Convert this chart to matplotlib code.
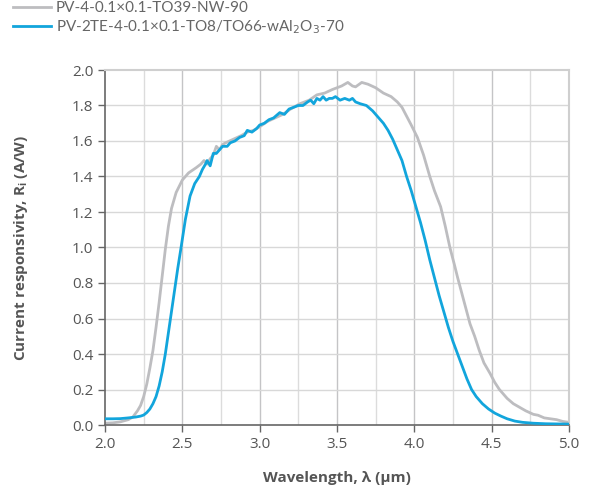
import matplotlib
matplotlib.use("Agg")
import matplotlib.pyplot as plt
from matplotlib.lines import Line2D

# ---- data ----
gray_label = "PV-4-0.1×0.1-TO39-NW-90"
blue_label = "PV-2TE-4-0.1×0.1-TO8/TO66-wAl$_2$O$_3$-70"

gray_x = [2.00, 2.05, 2.10, 2.15, 2.18, 2.21, 2.23, 2.25, 2.27, 2.29, 2.31, 2.33, 2.35, 2.37,
          2.39, 2.41, 2.43, 2.46, 2.50, 2.54, 2.59, 2.62, 2.64, 2.66, 2.68, 2.70, 2.72, 2.74,
          2.76, 2.78, 2.83, 2.88, 2.92, 2.96, 3.00, 3.05, 3.10, 3.15, 3.20, 3.26, 3.32, 3.37,
          3.42, 3.47, 3.50, 3.53, 3.57, 3.60, 3.62, 3.66, 3.70, 3.75, 3.80, 3.85, 3.89, 3.92,
          3.95, 3.98, 4.02, 4.06, 4.10, 4.13, 4.17, 4.20, 4.23, 4.26, 4.28, 4.32, 4.36, 4.39,
          4.42, 4.45, 4.49, 4.52, 4.55, 4.60, 4.64, 4.68, 4.72, 4.77, 4.80, 4.84, 4.88, 4.92,
          4.96, 5.00]
gray_y = [0.01, 0.012, 0.018, 0.03, 0.045, 0.08, 0.11, 0.16, 0.23, 0.32, 0.42, 0.55, 0.69, 0.84,
          0.99, 1.12, 1.22, 1.31, 1.38, 1.42, 1.45, 1.47, 1.49, 1.47, 1.50, 1.52, 1.57, 1.55,
          1.58, 1.59, 1.61, 1.63, 1.65, 1.66, 1.68, 1.71, 1.73, 1.75, 1.78, 1.81, 1.83, 1.86,
          1.87, 1.89, 1.90, 1.91, 1.93, 1.91, 1.905, 1.93, 1.92, 1.90, 1.87, 1.85, 1.82, 1.79,
          1.74, 1.69, 1.62, 1.52, 1.40, 1.32, 1.23, 1.12, 1.00, 0.90, 0.83, 0.70, 0.57, 0.50,
          0.42, 0.35, 0.29, 0.24, 0.20, 0.15, 0.12, 0.10, 0.08, 0.06, 0.055, 0.04, 0.035, 0.03,
          0.02, 0.015]

blue_x = [2.00, 2.05, 2.10, 2.15, 2.20, 2.23, 2.25, 2.27, 2.29, 2.31, 2.33, 2.35, 2.37, 2.39,
          2.41, 2.43, 2.45, 2.47, 2.49, 2.52, 2.55, 2.58, 2.61, 2.63, 2.65, 2.66, 2.68, 2.70,
          2.72, 2.74, 2.76, 2.79, 2.81, 2.84, 2.87, 2.90, 2.92, 2.95, 2.98, 3.00, 3.03, 3.06,
          3.09, 3.13, 3.16, 3.19, 3.22, 3.25, 3.28, 3.31, 3.33, 3.35, 3.37, 3.39, 3.41, 3.43,
          3.45, 3.47, 3.49, 3.52, 3.55, 3.58, 3.60, 3.62, 3.65, 3.69, 3.73, 3.76, 3.80, 3.83,
          3.86, 3.89, 3.92, 3.95, 3.98, 4.01, 4.04, 4.07, 4.10, 4.13, 4.16, 4.19, 4.22, 4.25,
          4.28, 4.31, 4.34, 4.37, 4.40, 4.44, 4.48, 4.52, 4.56, 4.60, 4.65, 4.70, 4.77, 4.85,
          5.00]
blue_y = [0.035, 0.035, 0.036, 0.04, 0.045, 0.05, 0.056, 0.07, 0.09, 0.12, 0.16, 0.22, 0.30, 0.40,
          0.52, 0.64, 0.76, 0.88, 0.99, 1.16, 1.29, 1.36, 1.40, 1.44, 1.47, 1.49, 1.46, 1.53,
          1.53, 1.55, 1.57, 1.57, 1.59, 1.60, 1.62, 1.63, 1.66, 1.65, 1.67, 1.69, 1.70, 1.72,
          1.73, 1.76, 1.75, 1.78, 1.79, 1.80, 1.80, 1.82, 1.83, 1.81, 1.84, 1.83, 1.85, 1.83,
          1.84, 1.84, 1.85, 1.83, 1.84, 1.83, 1.84, 1.82, 1.81, 1.80, 1.77, 1.74, 1.70, 1.66,
          1.61, 1.55, 1.49, 1.40, 1.32, 1.23, 1.14, 1.04, 0.93, 0.83, 0.73, 0.64, 0.55, 0.47,
          0.40, 0.33, 0.26, 0.20, 0.16, 0.12, 0.09, 0.067, 0.05, 0.035, 0.022, 0.015, 0.01, 0.007,
          0.005]

xticks = [2.0, 2.5, 3.0, 3.5, 4.0, 4.5, 5.0]
yticks = [0.0, 0.2, 0.4, 0.6, 0.8, 1.0, 1.2, 1.4, 1.6, 1.8, 2.0]

GRAY = "#bdbdc0"
BLUE = "#12a5dc"
TXT = "#555555"

fig = plt.figure(figsize=(5.89, 4.94), dpi=100)
ax = fig.add_axes([105/589, 69/494, 464/589, 355/494])

ax.set_xlim(2.0, 5.0)
ax.set_ylim(0.0, 2.0)

# grid
for v in [2.25, 2.75, 3.25, 3.75, 4.25, 4.75]:
    ax.axvline(v, color="#dcdcdc", lw=1.0, zorder=0)
for v in [2.5, 3.0, 3.5, 4.0, 4.5]:
    ax.axvline(v, color="#c4c4c6", lw=1.0, zorder=0)
for v in yticks[1:-1]:
    ax.axhline(v, color="#d8d8d8", lw=1.0, zorder=0)

ax.plot(gray_x, gray_y, color=GRAY, lw=2.0, zorder=2)
ax.plot(blue_x, blue_y, color=BLUE, lw=2.0, zorder=3)

ax.set_xticks(xticks)
ax.set_yticks(yticks)
ax.set_xticklabels([f"{v:.1f}" for v in xticks])
ax.set_yticklabels([f"{v:.1f}" for v in yticks])
ax.tick_params(axis="both", direction="out", length=5, width=1, colors="#666666",
               labelcolor=TXT, labelsize=11)
for lab in ax.get_xticklabels() + ax.get_yticklabels():
    lab.set_fontfamily("Open Sans")

for s in ["left", "bottom"]:
    ax.spines[s].set_color("#666666")
    ax.spines[s].set_linewidth(1.2)
for s in ["top", "right"]:
    ax.spines[s].set_color("#cfcfcf")
    ax.spines[s].set_linewidth(1.5)

ax.set_xlabel("Wavelength, λ (μm)", fontfamily="Open Sans", fontweight="bold",
              fontsize=11, color=TXT, labelpad=14)
ax.set_ylabel("Current responsivity, R$_\\mathregular{i}$ (A/W)", fontfamily="Open Sans",
              fontweight="bold", fontsize=11, color=TXT, labelpad=30)

handles = [Line2D([], [], color=GRAY, lw=2), Line2D([], [], color=BLUE, lw=2)]
fig.legend(handles, [gray_label, blue_label], loc="upper left",
           bbox_to_anchor=(13/589, 1 - 1/494), frameon=False, handlelength=2.5,
           handletextpad=0.3, labelspacing=0.2, borderaxespad=0.0, borderpad=0.0,
           prop={"family": "Lato", "size": 11}, labelcolor="#666666")

fig.savefig("out.png", dpi=100)
